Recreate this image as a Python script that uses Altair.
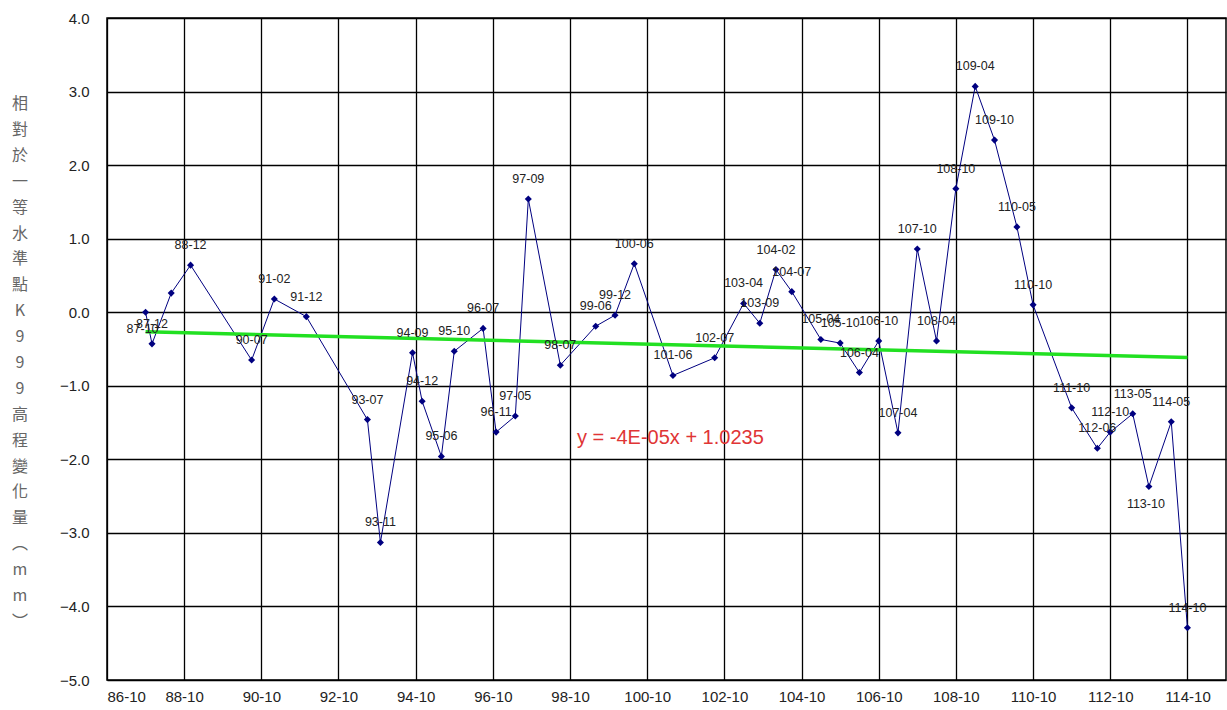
import json

import altair as alt
import pandas as pd

# Survey epochs (ROC year-month) and elevation change of the benchmark, in mm
survey_dates = [
    "87-10", "87-12", "88-06", "88-12", "90-07", "91-02", "91-12", "93-07",
    "93-11", "94-09", "94-12", "95-06", "95-10", "96-07", "96-11", "97-05",
    "97-09", "98-07", "99-06", "99-12", "100-06", "101-06", "102-07", "103-04",
    "103-09", "104-02", "104-07", "105-04", "105-10", "106-04", "106-10", "107-04",
    "107-10", "108-04", "108-10", "109-04", "109-10", "110-05", "110-10", "111-10",
    "112-06", "112-10", "113-05", "113-10", "114-05", "114-10",
]
height_change = [
    0.00, -0.43, 0.26, 0.64, -0.65, 0.18, -0.06, -1.46,
    -3.13, -0.55, -1.21, -1.96, -0.53, -0.22, -1.63, -1.41,
    1.54, -0.72, -0.19, -0.04, 0.66, -0.86, -0.62, 0.12,
    -0.15, 0.58, 0.28, -0.37, -0.42, -0.82, -0.39, -1.64,
    0.86, -0.39, 1.68, 3.07, 2.34, 1.16, 0.10, -1.30,
    -1.85, -1.63, -1.38, -2.37, -1.49, -4.29,
]

# Epochs drawn without a label, and labels placed under their point
unlabelled = ["88-06"]
labels_below = ["87-10", "113-10"]

# Even ROC years for the x ticks (October)
tick_years_roc = list(range(86, 115, 2))

title_chars = ["相", "對", "於", "一", "等", "水", "準", "點", "K", "9", "9", "9",
               "高", "程", "變", "化", "量", "︵", "m", "m", "︶"]
trend_equation = "y = -4E-05x + 1.0235"

df = pd.DataFrame({"date": survey_dates, "value": height_change})

NAVY = "#000080"
GREEN = "#22e022"
FONT = "Liberation Sans"

to_time = (
    "time(datetime(toNumber(split(datum.date, '-')[0]) + 1911, "
    "toNumber(split(datum.date, '-')[1]) - 1, 1))"
)

base = alt.Chart(df).transform_calculate(t=to_time)

x_enc = alt.X(
    "t:T",
    scale=alt.Scale(domain=[alt.DateTime(year=1997, month=10, date=1),
                            alt.DateTime(year=2026, month=10, date=1)]),
    axis=alt.Axis(
        values=[alt.DateTime(year=y + 1911, month=10, date=1) for y in tick_years_roc],
        labelExpr="(year(datum.value) - 1911) + '-' + timeFormat(datum.value, '%m')",
        title=None,
        labelPadding=9,
    ),
)
y_enc = alt.Y(
    "value:Q",
    scale=alt.Scale(domain=[-5, 4], nice=False, zero=False),
    axis=alt.Axis(values=list(range(-5, 5)), format=".1f", title=None, labelPadding=18),
)

series = base.mark_line(color=NAVY, strokeWidth=1).encode(x=x_enc, y=y_enc)

trend = base.transform_regression("t", "value").mark_line(
    color=GREEN, strokeWidth=3.5
).encode(x="t:T", y="value:Q")

points = base.mark_point(
    shape="diamond", filled=True, size=50, color=NAVY, opacity=1
).encode(x="t:T", y="value:Q")

skip = json.dumps(unlabelled)
below = json.dumps(labels_below)

labels_top = base.transform_filter(
    f"indexof({skip}, datum.date) < 0 && indexof({below}, datum.date) < 0"
).mark_text(
    font=FONT, fontSize=12.5, color="#222", dy=-20, align="center", baseline="middle"
).encode(x="t:T", y="value:Q", text="date:N")

labels_under = base.transform_filter(
    f"indexof({below}, datum.date) >= 0"
).mark_text(
    font=FONT, fontSize=12.5, color="#222", dy=17, dx=-3, align="center", baseline="middle"
).encode(x="t:T", y="value:Q", text="date:N")

equation = alt.Chart(pd.DataFrame({"text": [trend_equation]})).mark_text(
    font=FONT, fontSize=20, color="#e03535", align="left", baseline="middle"
).encode(x=alt.value(470), y=alt.value(420), text="text:N")

y_title = alt.Chart(pd.DataFrame({"text": ["\n".join(title_chars)]})).mark_text(
    font="Noto Sans CJK TC", fontSize=16, color="#666", align="center",
    baseline="top", lineBreak="\n", lineHeight=25.9,
).encode(x=alt.value(-87), y=alt.value(78), text="text:N")

chart = alt.layer(
    series, trend, points, labels_top, labels_under, equation, y_title
).properties(
    width=1119,
    height=662,
    autosize=alt.AutoSizeParams(type="none"),
    padding={"left": 107, "top": 18, "right": 1, "bottom": 30},
    background="white",
).configure_view(
    stroke="#000", strokeWidth=1.5
).configure_axis(
    labelFont=FONT, labelFontSize=15, labelColor="#222",
    domain=False, ticks=False,
    grid=True, gridColor="#000", gridWidth=1.3, gridOpacity=1,
)

chart.save("out.html", embed_options={"renderer": "svg", "actions": False})
